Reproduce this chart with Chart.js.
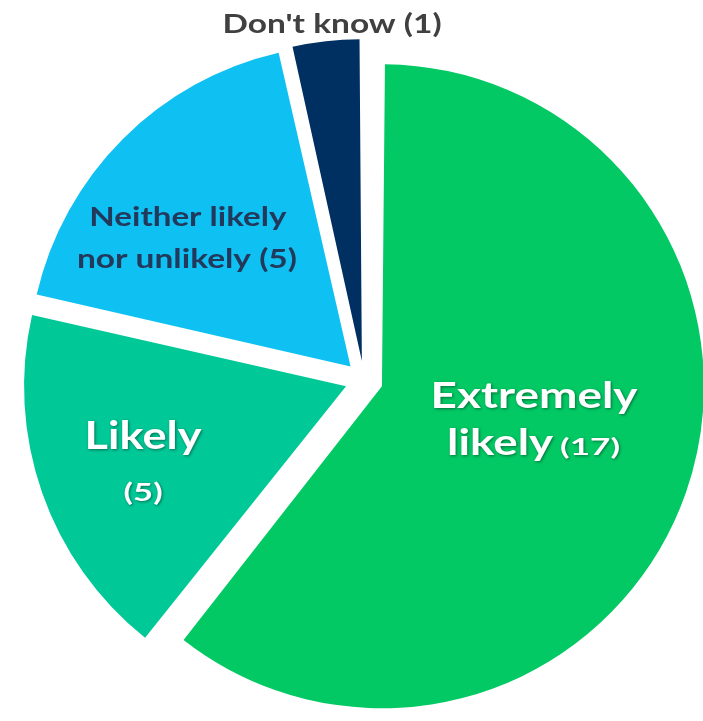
<!DOCTYPE html>
<html>
<head>
<meta charset="utf-8">
<script src="https://cdn.jsdelivr.net/npm/chart.js@4"></script>
<style>
  html, body { margin: 0; padding: 0; background: #ffffff; }
  #wrap { width: 703px; height: 721px; position: relative; }
</style>
</head>
<body>
<div id="wrap"><canvas id="c"></canvas></div>
<script>
// ---- data ----
const categories = ["Extremely likely", "Likely", "Neither likely nor unlikely", "Don't know"];
const counts = [17, 5, 5, 1];

// ---- styles ----
const sliceColors = ["#02c964", "#00c897", "#0fc1f3", "#002f61"];
const FONT = "Lato, 'Open Sans', sans-serif";
const PIE_RADIUS = 322;
const EXPLODE = 76; // Chart.js translates each slice by offset/4 px

// label layout: runs positioned relative to chart centre in units of radius
function labelRuns() {
  const w = categories.map(c => c.split(" "));
  const c = counts;
  return [
    // Extremely likely
    { text: w[0][0], dx: 0.528, dy: 0.087, size: 36, width: 207, color: "#ffffff", shadow: true, align: "center" },
    { text: w[0][1], dx: 0.258, dy: 0.233, size: 36, width: 106, color: "#ffffff", shadow: true, align: "left" },
    { text: "(" + c[0] + ")", dx: 0.609, dy: 0.233, size: 23, width: 60, color: "#ffffff", shadow: true, align: "left" },
    // Likely
    { text: categories[1], dx: -0.686, dy: 0.214, size: 39, width: 117, color: "#ffffff", shadow: true, align: "center" },
    { text: "(" + c[1] + ")", dx: -0.686, dy: 0.376, size: 25, width: 39, color: "#ffffff", shadow: true, align: "center" },
    // Neither likely nor unlikely
    { text: w[2].slice(0, 2).join(" "), dx: -0.547, dy: -0.478, size: 26, width: 197, color: "#22395c", shadow: false, align: "center" },
    { text: w[2].slice(2).join(" ") + " (" + c[2] + ")", dx: -0.550, dy: -0.348, size: 26, width: 220, color: "#22395c", shadow: false, align: "center" },
    // Don't know
    { text: categories[3] + " (" + c[3] + ")", dx: -0.099, dy: -1.078, size: 27, width: 219, color: "#404040", shadow: false, align: "center" }
  ];
}

// keep every exploded slice at the same radius (Chart.js enlarges wide slices when offset)
const equalRadiusPlugin = {
  id: "equalRadius",
  beforeDatasetsDraw(chart) {
    const meta = chart.getDatasetMeta(0);
    meta.data.forEach(arc => {
      const circ = arc.endAngle - arc.startAngle;
      const fix = 1 - Math.sin(Math.min(Math.PI, circ));
      arc.outerRadius = PIE_RADIUS - (EXPLODE / 4) * fix;
    });
  }
};

const labelPlugin = {
  id: "sliceLabels",
  afterDatasetsDraw(chart) {
    const meta = chart.getDatasetMeta(0);
    const arc = meta.data[0];
    if (!arc) return;
    const cx = arc.x, cy = arc.y, R = PIE_RADIUS;
    const ctx = chart.ctx;
    labelRuns().forEach(r => {
      ctx.save();
      ctx.font = "bold " + r.size + "px " + FONT;
      ctx.textBaseline = "alphabetic";
      ctx.textAlign = "left";
      const m = ctx.measureText(r.text).width;
      const sx = r.width / m;
      let x = cx + r.dx * R;
      const y = cy + r.dy * R;
      if (r.align === "center") x -= r.width / 2;
      ctx.translate(x, y);
      ctx.scale(sx, 1);
      if (r.shadow) {
        ctx.shadowColor = "rgba(0,0,0,0.45)";
        ctx.shadowBlur = 3;
        ctx.shadowOffsetX = 1;
        ctx.shadowOffsetY = 1;
      }
      ctx.fillStyle = r.color;
      ctx.fillText(r.text, 0, 0);
      ctx.restore();
    });
  }
};

function draw() {
  new Chart(document.getElementById("c"), {
    type: "pie",
    data: {
      labels: categories,
      datasets: [{
        data: counts,
        backgroundColor: sliceColors,
        borderWidth: 0,
        offset: EXPLODE,
        radius: PIE_RADIUS,
        clip: false
      }]
    },
    options: {
      responsive: true,
      maintainAspectRatio: false,
      animation: false,
      rotation: 0,
      layout: { padding: { left: 25, right: 0, top: 39, bottom: 0 } },
      plugins: {
        legend: { display: false },
        tooltip: { enabled: false },
        title: { display: false }
      }
    },
    plugins: [equalRadiusPlugin, labelPlugin]
  });
}

if (document.fonts && document.fonts.load) {
  Promise.all([
    document.fonts.load("bold 30px Lato"),
    document.fonts.load("bold 30px 'Open Sans'")
  ]).then(draw, draw);
} else {
  draw();
}
</script>
</body>
</html>
